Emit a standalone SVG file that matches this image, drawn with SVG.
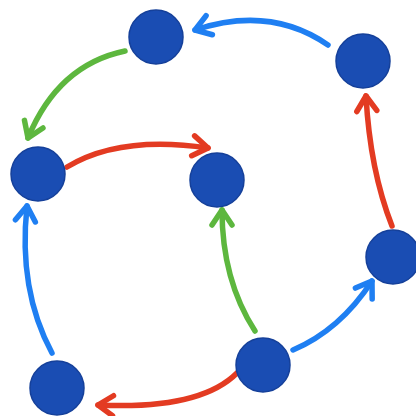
<svg xmlns="http://www.w3.org/2000/svg" width="416" height="416" viewBox="0 0 416 416">
<style>
.node{fill:#1a4db3;stroke:#15409a;stroke-width:1.5}
.e{fill:none;stroke-width:5.5;stroke-linecap:round}
.b{stroke:#1f7ff2}.g{stroke:#5db73e}.r{stroke:#e33b22}
.h{fill:none;stroke-width:5.5;stroke-linecap:round;stroke-linejoin:round}
</style>
<defs>
<marker id="ab" markerUnits="userSpaceOnUse" markerWidth="40" markerHeight="40" viewBox="-20 -20 40 40" refX="0" refY="0" orient="auto"><path class="h" stroke="#1f7ff2" d="M-15,-10 L0,0 L-15,10"/></marker>
<marker id="ag" markerUnits="userSpaceOnUse" markerWidth="40" markerHeight="40" viewBox="-20 -20 40 40" refX="0" refY="0" orient="auto"><path class="h" stroke="#5db73e" d="M-15,-10 L0,0 L-15,10"/></marker>
<marker id="ar" markerUnits="userSpaceOnUse" markerWidth="40" markerHeight="40" viewBox="-20 -20 40 40" refX="0" refY="0" orient="auto"><path class="h" stroke="#e33b22" d="M-15,-10 L0,0 L-15,10"/></marker>
</defs>
<rect width="416" height="416" fill="#ffffff"/>
<g id="connectors">
<path class="e b" d="M328,45 Q270,5 195,30" marker-end="url(#ab)"/>
<path class="e g" d="M125,51 Q58,65 28,138" marker-end="url(#ag)"/>
<path class="e r" d="M67,167 Q120,135 208,148" marker-end="url(#ar)"/>
<path class="e r" d="M392,226 Q370,170 366,96" marker-end="url(#ar)"/>
<path class="e b" d="M52,353 Q18,290 27,206" marker-end="url(#ab)"/>
<path class="e g" d="M255,331 Q222,280 222,210" marker-end="url(#ag)"/>
<path class="e b" d="M293,350 Q340,330 372,281" marker-end="url(#ab)"/>
<path class="e r" d="M237,373 Q200,410 98,405" marker-end="url(#ar)"/>
</g>
<g id="n1"><circle class="node" cx="156" cy="37" r="27"/></g>
<g id="n2"><circle class="node" cx="363" cy="61" r="27"/></g>
<g id="n3"><circle class="node" cx="38" cy="174" r="27"/></g>
<g id="n4"><circle class="node" cx="217" cy="180" r="27"/></g>
<g id="n5"><circle class="node" cx="393" cy="257" r="27"/></g>
<g id="n6"><circle class="node" cx="263" cy="365" r="27"/></g>
<g id="n7"><circle class="node" cx="57" cy="388" r="27"/></g>
</svg>
